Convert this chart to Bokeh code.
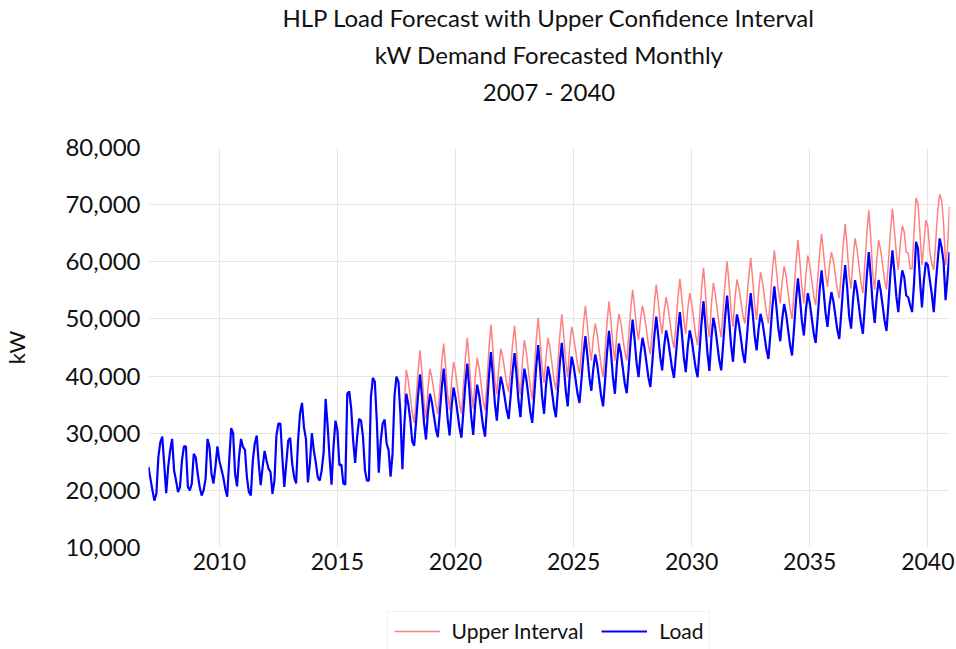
from bokeh.plotting import figure
from bokeh.layouts import column
from bokeh.models import Range1d, FixedTicker, NumeralTickFormatter, Title, Legend, LegendItem
from bokeh.embed import file_html
from bokeh.resources import INLINE

FONT = "Lato"

# Monthly load (kW), Jan..Dec per year
load_2007 = [24100, 22000, 20000, 18200, 19400, 25800, 28400, 29400, 24500, 19500, 24100, 27000]
load_2008 = [29000, 23500, 21700, 19700, 20600, 25200, 27700, 27700, 20600, 20000, 21200, 26400]
load_2009 = [25800, 22900, 20600, 19100, 20000, 22000, 29000, 27600, 22900, 21200, 24100, 27700]
load_2010 = [25200, 23800, 22300, 20300, 18900, 25200, 30900, 30000, 22900, 20700, 25800, 29000]
load_2011 = [27600, 27100, 22300, 19700, 19100, 25200, 28200, 29600, 24700, 20900, 24100, 26900]
load_2012 = [25200, 23800, 23200, 19400, 21700, 29600, 31700, 31700, 25800, 20600, 24700, 28700]
load_2013 = [29200, 24700, 22300, 21200, 28700, 33500, 35300, 31000, 29000, 21400, 24700, 30000]
load_2014 = [27000, 24900, 22300, 21700, 23500, 26700, 36000, 31400, 25800, 21000, 27600, 32200]
load_2015 = [30500, 24400, 24500, 21200, 21000, 36900, 37300, 34300, 28700, 24800, 29300, 32500]
load_2016 = [32200, 29300, 23500, 21700, 21700, 36300, 39700, 39000, 32200, 23100, 28700, 31700]
load_2017 = [32400, 28200, 27000, 22400, 26400, 36600, 39900, 39000, 33400, 23700, 31500, 36900]
load_2018 = [35100, 32400, 28600, 27800, 32200, 36800, 40300, 36300, 31800, 28900, 33700, 36900]
load_2019 = [35400, 33100, 30800, 29300, 33500, 37900, 41300, 37200, 32500, 29600, 34600, 38000]
load_2020 = [36200, 33600, 31000, 29200, 33800, 38600, 42200, 37800, 32800, 29700, 35000, 38500]
load_2021 = [36700, 34000, 31200, 29400, 34600, 40100, 44200, 40000, 35200, 32200, 36800, 39900]
load_2022 = [38400, 36200, 34000, 32500, 36500, 40800, 44000, 40100, 35600, 32800, 37900, 41300]
load_2023 = [39400, 36600, 33700, 31800, 36600, 41600, 45400, 41200, 36400, 33400, 38400, 41700]
load_2024 = [39900, 37300, 34600, 32800, 37400, 42200, 45800, 41900, 37500, 34700, 39900, 43400]
load_2025 = [41800, 39400, 36900, 35300, 39400, 43700, 47000, 43600, 39800, 37400, 41200, 43800]
load_2026 = [42000, 39300, 36500, 34700, 39300, 44200, 47900, 44100, 39700, 36900, 42200, 45700]
load_2027 = [44000, 41400, 38700, 37000, 41500, 46300, 49900, 46400, 42300, 39800, 43900, 46700]
load_2028 = [45000, 42400, 39800, 38100, 42400, 47000, 50400, 47100, 43400, 41000, 45200, 48000]
load_2029 = [46300, 43900, 41400, 39700, 43700, 48000, 51200, 47500, 43300, 40700, 45100, 48000]
load_2030 = [46400, 43900, 41400, 39800, 44500, 49400, 53100, 48800, 44000, 40900, 46500, 50200]
load_2031 = [48400, 45600, 42800, 41000, 45600, 50400, 54100, 50000, 45400, 42500, 47500, 50800]
load_2032 = [49100, 46600, 44000, 42300, 46600, 51100, 54500, 51000, 47000, 44500, 48300, 50900]
load_2033 = [49300, 47000, 44600, 43000, 47400, 52100, 55700, 52300, 48500, 46100, 50000, 52600]
load_2034 = [50800, 48100, 45400, 43600, 48300, 53300, 57100, 53600, 49600, 47100, 51500, 54500]
load_2035 = [52800, 50200, 47500, 45800, 50200, 55000, 58500, 55000, 51100, 48600, 52300, 54700]
load_2036 = [53100, 50600, 48100, 46500, 51000, 55800, 59400, 55500, 50500, 48300, 53400, 56800]
load_2037 = [54900, 52100, 49300, 47400, 52400, 57700, 61700, 57400, 52400, 49300, 53800, 56800]
load_2038 = [55000, 52400, 49700, 47900, 52800, 58100, 62000, 58200, 53900, 51200, 55600, 58500]
load_2039 = [57300, 54100, 53800, 52400, 51200, 56400, 63500, 62300, 56800, 52000, 56800, 59900]
load_2040 = [59400, 56800, 54400, 51200, 56100, 60200, 64100, 62500, 60000, 53300, 57300, 61700]

# Upper confidence interval (kW), starting Nov 2017
upper_2017 = [35400, 41100]  # Nov, Dec
upper_2018 = [39200, 36500, 33700, 31800, 36200, 41000, 44500, 40300, 35500, 32500, 37800, 41300]
upper_2019 = [39700, 37400, 35000, 33400, 37700, 42300, 45700, 41600, 36900, 34000, 39100, 42500]
upper_2020 = [40700, 38000, 35200, 33400, 38100, 43000, 46700, 42400, 37400, 34300, 39600, 43200]
upper_2021 = [41400, 38600, 35800, 34000, 39300, 44800, 49000, 44700, 39200, 36800, 41600, 44800]
upper_2022 = [43300, 41000, 38700, 37200, 41300, 45600, 48800, 44600, 39100, 36700, 42500, 46300]
upper_2023 = [44200, 41100, 38000, 35900, 40900, 46200, 50200, 46200, 41600, 38800, 43500, 46700]
upper_2024 = [44900, 42200, 39400, 37600, 42200, 47100, 50800, 47000, 42600, 39800, 45100, 48600]
upper_2025 = [47000, 44500, 42000, 40400, 44600, 49000, 52300, 48900, 45100, 42700, 46600, 49200]
upper_2026 = [47300, 44500, 41700, 39800, 44500, 49400, 53100, 49500, 45300, 42700, 47600, 50900]
upper_2027 = [49300, 46800, 44300, 42700, 47000, 51600, 55100, 52000, 48500, 46300, 49900, 52300]
upper_2028 = [50600, 48100, 45500, 43800, 48100, 52600, 56000, 53000, 49600, 47400, 51200, 53800]
upper_2029 = [52000, 49400, 46700, 44900, 49100, 53600, 57000, 53600, 49800, 47400, 51700, 54500]
upper_2030 = [52700, 50000, 47200, 45400, 50200, 55200, 59000, 54700, 49200, 46800, 52500, 56300]
upper_2031 = [54400, 51600, 48700, 46800, 51500, 56400, 60100, 56100, 51500, 48600, 53600, 56900]
upper_2032 = [55400, 53100, 50700, 49200, 53200, 57500, 60700, 56900, 52500, 49800, 54800, 58200]
upper_2033 = [56400, 53700, 51000, 49200, 53700, 58400, 62000, 58700, 55000, 52700, 56600, 59200]
upper_2034 = [57400, 54600, 51800, 50000, 54800, 59900, 63800, 59900, 55500, 52700, 57700, 61100]
upper_2035 = [59400, 56800, 54100, 52400, 56800, 61400, 64900, 61600, 57900, 55600, 59300, 61700]
upper_2036 = [60100, 57700, 55200, 53600, 58200, 63000, 66600, 62600, 57600, 55300, 60600, 64100]
upper_2037 = [62200, 59300, 56400, 54500, 59600, 64900, 69000, 64100, 57900, 55100, 60300, 63800]
upper_2038 = [62100, 59500, 56800, 55100, 60100, 65300, 69300, 65600, 61300, 58600, 63200, 66300]
upper_2039 = [65200, 61700, 61500, 58800, 58800, 65500, 71200, 70200, 64900, 59400, 63200, 67300]
upper_2040 = [66100, 61700, 59700, 58600, 63500, 68700, 71800, 70800, 66700, 59400, 62300, 69700]

x_ticks = [2010, 2015, 2020, 2025, 2030, 2035, 2040]
y_ticks = [10000, 20000, 30000, 40000, 50000, 60000, 70000, 80000]

load_years = [load_2007, load_2008, load_2009, load_2010, load_2011, load_2012, load_2013,
              load_2014, load_2015, load_2016, load_2017, load_2018, load_2019, load_2020,
              load_2021, load_2022, load_2023, load_2024, load_2025, load_2026, load_2027,
              load_2028, load_2029, load_2030, load_2031, load_2032, load_2033, load_2034,
              load_2035, load_2036, load_2037, load_2038, load_2039, load_2040]
upper_years = [upper_2018, upper_2019, upper_2020, upper_2021, upper_2022, upper_2023,
               upper_2024, upper_2025, upper_2026, upper_2027, upper_2028, upper_2029,
               upper_2030, upper_2031, upper_2032, upper_2033, upper_2034, upper_2035,
               upper_2036, upper_2037, upper_2038, upper_2039, upper_2040]

load_x, load_y = [], []
for i, vals in enumerate(load_years):
    for m, v in enumerate(vals):
        load_x.append(2007 + i + m / 12)
        load_y.append(v)

upper_x = [2017 + 10 / 12, 2017 + 11 / 12]
upper_y = list(upper_2017)
for i, vals in enumerate(upper_years):
    for m, v in enumerate(vals):
        upper_x.append(2018 + i + m / 12)
        upper_y.append(v)

UP_COLOR = "#ff8080"
LOAD_COLOR = "#0000ff"

p = figure(width=956, height=611, output_backend="svg", toolbar_location=None,
           x_range=Range1d(load_x[0], load_x[-1]), y_range=Range1d(10000, 80000),
           min_border_left=147, min_border_right=7, min_border_top=0,
           min_border_bottom=64, title=None)
p.outline_line_color = None
p.background_fill_color = "white"
p.border_fill_color = "white"

# spacer between the titles and the plot frame
p.add_layout(Title(text=" ", text_font=FONT, text_font_size="10px", standoff=24), "above")
for txt, so in [("2007 - 2040", 4), ("kW Demand Forecasted Monthly", 8),
                ("HLP Load Forecast with Upper Confidence Interval", 4)]:
    p.add_layout(Title(text=txt, align="center", vertical_align="top", text_font=FONT,
                       text_font_size="24px", text_font_style="normal",
                       text_color="#111111", standoff=so), "above")

p.line(upper_x, upper_y, line_color=UP_COLOR, line_width=1.5)
p.line(load_x, load_y, line_color=LOAD_COLOR, line_width=2.2)

p.xaxis.ticker = FixedTicker(ticks=x_ticks)
p.yaxis.ticker = FixedTicker(ticks=y_ticks)
p.yaxis.formatter = NumeralTickFormatter(format="0,0")
p.xgrid.ticker = FixedTicker(ticks=x_ticks)
p.ygrid.ticker = FixedTicker(ticks=y_ticks[1:-1])
for g in (p.xgrid, p.ygrid):
    g.grid_line_color = "#e6e6e6"
    g.grid_line_width = 1

for ax in (p.xaxis, p.yaxis):
    ax.axis_line_color = None
    ax.major_tick_line_color = None
    ax.minor_tick_line_color = None
    ax.major_tick_out = 0
    ax.major_tick_in = 0
    ax.major_label_text_font = FONT
    ax.major_label_text_color = "#111111"
p.xaxis.major_label_text_font_size = "23px"
p.yaxis.major_label_text_font_size = "24px"
p.xaxis.major_label_standoff = 5
p.yaxis.major_label_standoff = 8
p.yaxis.axis_label = "kW"
p.yaxis.axis_label_text_font = FONT
p.yaxis.axis_label_text_font_size = "22px"
p.yaxis.axis_label_text_font_style = "normal"
p.yaxis.axis_label_text_color = "#111111"
p.yaxis.axis_label_standoff = 32

# legend strip below the chart; its ranges are set so the series themselves stay out of view
lg = figure(width=956, height=38, output_backend="svg", toolbar_location=None,
            x_axis_type=None, y_axis_type=None, x_range=Range1d(0, 1), y_range=Range1d(0, 1),
            min_border_left=147, min_border_right=7,
            min_border_top=0, min_border_bottom=0, title=None)
lg.outline_line_color = None
lg.xgrid.visible = False
lg.ygrid.visible = False
r_up_l = lg.line(upper_x, upper_y, line_color=UP_COLOR, line_width=1.5)
r_load_l = lg.line(load_x, load_y, line_color=LOAD_COLOR, line_width=2.2)
legend = Legend(items=[LegendItem(label="Upper Interval", renderers=[r_up_l]),
                       LegendItem(label="Load", renderers=[r_load_l])],
                orientation="horizontal", location="top_center",
                label_text_font=FONT, label_text_font_size="21px", label_text_color="#111111",
                glyph_width=46, glyph_height=20, label_standoff=12, spacing=18,
                padding=6, margin=0, border_line_color="#e3e3e3",
                background_fill_color="white", background_fill_alpha=1)
lg.add_layout(legend)

layout = column(p, lg, spacing=0)
open("out.html", "w").write(file_html(layout, INLINE))
